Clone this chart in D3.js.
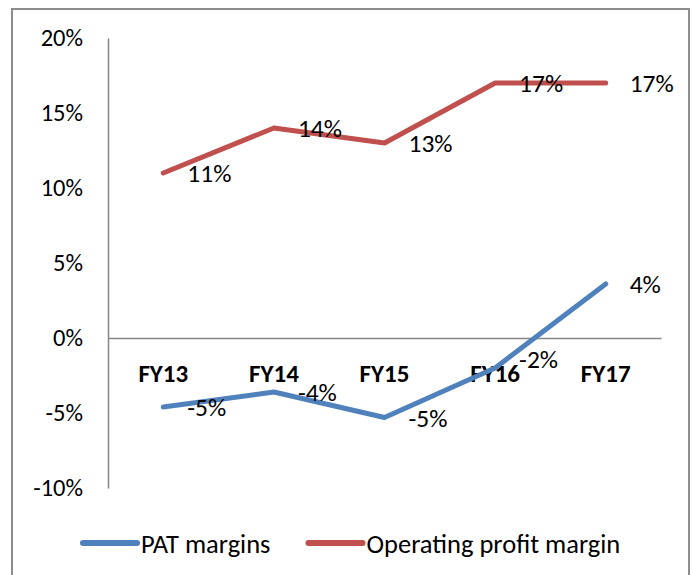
<!DOCTYPE html>
<html>
<head>
<meta charset="utf-8">
<script src="https://cdn.jsdelivr.net/npm/d3@7"></script>
<style>
  body { margin: 0; background: #fff; }
  svg { display: block; font-family: Carlito, Lato, "Open Sans", sans-serif; }
</style>
</head>
<body>
<div id="chart"></div>
<script>
const categories = ["FY13", "FY14", "FY15", "FY16", "FY17"];
const patMargins = [-0.046, -0.036, -0.053, -0.02, 0.036];
const operatingMargins = [0.11, 0.14, 0.13, 0.17, 0.17];
const yTicks = [-0.1, -0.05, 0, 0.05, 0.1, 0.15, 0.2];

const series = [
  { name: "PAT margins", values: patMargins, color: "#4f81bd" },
  { name: "Operating profit margin", values: operatingMargins, color: "#c0504d" },
];

const width = 694, height = 575;
const margin = { left: 108, right: 33, top: 38, bottom: 87 };
const fontSize = 24.5;

const svg = d3
  .select("#chart")
  .append("svg")
  .attr("width", width)
  .attr("height", height);

// chart frame
svg
  .append("rect")
  .attr("x", 12)
  .attr("y", 9)
  .attr("width", 677)
  .attr("height", 600)
  .attr("fill", "none")
  .attr("stroke", "#8c8c8c")
  .attr("stroke-width", 2);

const x = d3
  .scaleBand()
  .domain(categories)
  .range([margin.left, width - margin.right]);

const y = d3
  .scaleLinear()
  .domain([-0.1, 0.2])
  .range([height - margin.bottom, margin.top]);

// plain hyphen for negatives, like the original
const fmt = d3.formatLocale({ decimal: ".", thousands: ",", grouping: [3], currency: ["", ""], minus: "-" }).format(".0%");
const cx = (i) => x(categories[i]) + x.bandwidth() / 2;

// y axis
const yAxis = svg
  .append("g")
  .attr("transform", `translate(${margin.left},0)`)
  .call(d3.axisLeft(y).tickValues(yTicks).tickFormat(fmt).tickSize(0).tickPadding(25));
yAxis.select(".domain").attr("stroke", "#868686").attr("stroke-width", 1.5);
yAxis
  .selectAll("text")
  .attr("font-family", "Carlito, Lato, sans-serif")
  .attr("font-size", fontSize)
  .attr("fill", "#000");

// zero line with category labels below it
const xAxis = svg
  .append("g")
  .attr("transform", `translate(0,${y(0)})`)
  .call(d3.axisBottom(x).tickSize(0).tickPadding(26));
xAxis.select(".domain").attr("stroke", "#868686").attr("stroke-width", 1.5);
xAxis
  .selectAll("text")
  .attr("font-family", "Carlito, Lato, sans-serif")
  .attr("font-size", fontSize + 0.5)
  .attr("font-weight", "bold")
  .attr("fill", "#000");

const line = d3
  .line()
  .x((d, i) => cx(i))
  .y((d) => y(d));

series.forEach((s) => {
  svg
    .append("path")
    .datum(s.values)
    .attr("d", line)
    .attr("fill", "none")
    .attr("stroke", s.color)
    .attr("stroke-width", 5)
    .attr("stroke-linejoin", "round")
    .attr("stroke-linecap", "round");
});

// data labels to the right of each point
series.forEach((s) => {
  svg
    .append("g")
    .selectAll("text")
    .data(s.values)
    .join("text")
    .attr("x", (d, i) => cx(i) + 24)
    .attr("y", (d) => y(d))
    // the label sitting on the zero-crossing segment is lifted clear of the line
    .attr("dy", (d, i) => (i === 3 && d < 0 ? "0" : "0.36em"))
    .attr("font-size", fontSize + 1)
    .attr("fill", "#000")
    .text((d) => fmt(d));
});

// legend
const legend = svg.append("g").attr("transform", "translate(0,543)");
let lx = 83;
series.forEach((s) => {
  legend
    .append("line")
    .attr("x1", lx)
    .attr("x2", lx + 54)
    .attr("stroke", s.color)
    .attr("stroke-width", 6)
    .attr("stroke-linecap", "round");
  const t = legend
    .append("text")
    .attr("x", lx + 58)
    .attr("dy", "0.36em")
    .attr("font-size", fontSize + 2)
    .attr("fill", "#000")
    .text(s.name);
  lx += 58 + t.node().getComputedTextLength() + 38;
});
</script>
</body>
</html>
